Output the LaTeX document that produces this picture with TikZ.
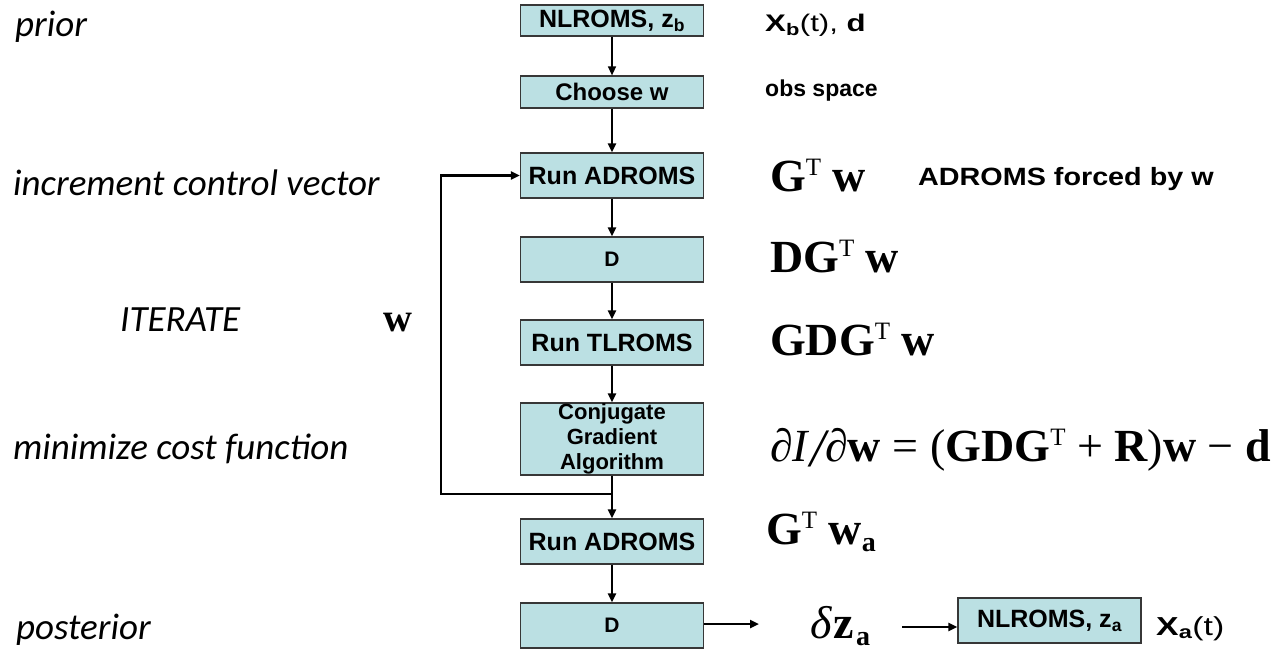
\documentclass[tikz,border=0pt]{standalone}
\usepackage{fontspec}
\setmainfont{Liberation Sans}
\newfontfamily\calib{Carlito}
\newfontfamily\tms{Liberation Serif}
\newfontfamily\widesans[FakeStretch=1.3]{Liberation Sans}
\newfontfamily\semiwide[FakeStretch=1.15]{Liberation Sans}
\usetikzlibrary{arrows.meta}
\definecolor{boxfill}{RGB}{187,224,227}
\definecolor{boxline}{RGB}{55,55,55}
\newcommand{\supT}{\raisebox{16pt}{\fontsize{25}{25}\selectfont\mdseries\upshape T}}
\newcommand{\subA}{\raisebox{-7pt}{\fontsize{28}{28}\selectfont\bfseries a}}
\begin{document}
\begin{tikzpicture}[x=1pt,y=-1pt,
  box/.style={draw=boxline, line width=1.2pt, fill=boxfill, minimum width=183pt,
    minimum height=45pt, inner sep=0pt, align=center,
    font=\bfseries\fontsize{25}{27}\selectfont},
  arr/.style={-{Triangle[length=9pt,width=8pt]}, line width=2.3pt},
  lbl/.style={anchor=base west, inner sep=0pt, font=\calib\itshape\fontsize{37}{40}\selectfont},
  rtxt/.style={anchor=base west, inner sep=0pt, font=\bfseries\fontsize{24}{26}\selectfont},
  mth/.style={anchor=base west, inner sep=0pt, font=\tms\bfseries\fontsize{46}{50}\selectfont}]
\useasboundingbox (0,0) rectangle (1282,650);

% boxes
\node[box, minimum height=31pt] (nlb) at (612,20.5) {NLROMS, z\textsubscript{b}};
\node[box, minimum height=32pt, font=\bfseries\fontsize{24}{26}\selectfont] (ch) at (612,92) {Choose w};
\node[box] (ad1) at (612,175.5) {Run ADROMS};
\node[box, font=\bfseries\fontsize{21}{23}\selectfont] (d1) at (612,259.5) {D};
\node[box] (tl) at (612,342.5) {Run TLROMS};
\node[box, minimum height=72pt, font=\bfseries\fontsize{22}{25}\selectfont] (cg) at (612,439) {Conjugate\\Gradient\\Algorithm};
\node[box] (ad2) at (612,541.5) {Run ADROMS};
\node[box, font=\bfseries\fontsize{21}{23}\selectfont] (d2) at (612,625.5) {D};
\node[box] (nla) at (1049.5,620.5) {NLROMS, z\textsubscript{a}};

% connectors
\draw[arr, line width=1.3pt] (nlb) -- (ch);
\draw[arr] (ch) -- (ad1);
\draw[arr] (ad1) -- (d1);
\draw[arr] (d1) -- (tl);
\draw[arr] (tl) -- (cg);
\draw[arr] (cg) -- (ad2);
\draw[arr] (ad2) -- (d2);
\coordinate (j) at (612,494);
\coordinate (lp) at (441,494);
\draw[arr] (j) -- (lp) |- (ad1.west);
\coordinate (dzin) at (759,624);
\draw[arr] (d2.east |- dzin) -- (dzin);
\coordinate (dzout) at (902,627);
\draw[arr] (dzout) -- (nla.west |- dzout);

% left labels
\node[lbl] (prior) at (15,37) {prior};
\node[lbl] (inc) at (13,195) {increment control vector};
\node[lbl] (iter) at (120,331) {ITERATE};
\node[mth, font=\tms\bfseries\fontsize{40}{44}\selectfont] (wl) at (383,331) {w};
\node[lbl] (mini) at (13,459) {minimize cost function};
\node[lbl] (post) at (16,639) {posterior};

% right labels
\node[rtxt, font=\widesans\bfseries\fontsize{24}{26}\selectfont] (xb) at (765,32) {X\textsubscript{b}\mdseries(t), \bfseries d};
\node[rtxt, font=\bfseries\fontsize{23}{25}\selectfont] (obs) at (765,97) {obs space};
\node[mth] (m1) at (770,191) {G\supT\ w};
\node[rtxt, font=\semiwide\bfseries\fontsize{25}{27}\selectfont] (forced) at (918,185) {ADROMS forced by w};
\node[mth] (m2) at (770,272) {DG\supT\ w};
\node[mth] (m3) at (770,355) {GDG\supT\ w};
\node[mth] (m4) at (770,461) {{\mdseries\itshape ∂I\hspace{2pt}\raisebox{-5pt}{\fontsize{54}{54}\selectfont /}∂}w \mdseries= (\bfseries GDG\supT\mdseries{} + \bfseries R\mdseries)\bfseries w \mdseries− \bfseries d};
\node[mth] (m5) at (766,544) {G\supT\ w\subA};
\node[mth] (dz) at (810,638) {{\mdseries\itshape δ}\hspace{2pt}z\hspace{2pt}\subA};
\node[rtxt, font=\widesans\fontsize{26}{28}\selectfont] (xa) at (1156,635) {\bfseries X\textsubscript{a}\mdseries(t)};
\end{tikzpicture}
\end{document}
